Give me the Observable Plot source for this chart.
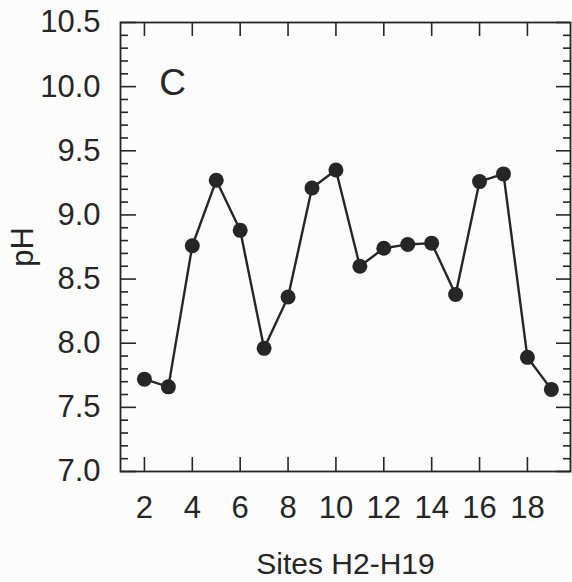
<!DOCTYPE html>
<html>
<head>
<meta charset="utf-8">
<script src="https://cdn.jsdelivr.net/npm/d3@7"></script>
<script src="https://cdn.jsdelivr.net/npm/@observablehq/plot@0.6"></script>
<style>
  html, body { margin: 0; padding: 0; background: #fcfcfc; }
  #chart svg { display: block; }
</style>
</head>
<body>
<div id="chart"></div>
<script>
// Sampling sites H2–H19 and measured pH
const sites = [2, 3, 4, 5, 6, 7, 8, 9, 10, 11, 12, 13, 14, 15, 16, 17, 18, 19];
const pH = [7.72, 7.66, 8.76, 9.27, 8.88, 7.96, 8.36, 9.21, 9.35, 8.60, 8.74, 8.77, 8.78, 8.38, 9.26, 9.32, 7.89, 7.64];

// Axis ticks
const xTicks = [2, 4, 6, 8, 10, 12, 14, 16, 18];
const yMajor = [7.0, 7.5, 8.0, 8.5, 9.0, 9.5, 10.0, 10.5];
const yMinor = [7.1, 7.2, 7.3, 7.4, 7.6, 7.7, 7.8, 7.9, 8.1, 8.2, 8.3, 8.4, 8.6, 8.7, 8.8, 8.9,
                9.1, 9.2, 9.3, 9.4, 9.6, 9.7, 9.8, 9.9, 10.1, 10.2, 10.3, 10.4];

const panelLabel = "C";
const xLabel = "Sites H2-H19";
const yLabel = "pH";

const data = sites.map((s, i) => ({site: s, pH: pH[i]}));

const W = 572, H = 582;
const mL = 120, mR = 2, mT = 22, mB = 111;
const fw = W - mL - mR, fh = H - mT - mB;
const ink = "#262626";
const font = "'Liberation Sans', Arial, sans-serif";

const chart = Plot.plot({
  width: W,
  height: H,
  marginLeft: mL,
  marginRight: mR,
  marginTop: mT,
  marginBottom: mB,
  style: {fontFamily: font, color: ink, background: "transparent"},
  x: {domain: [1, 19.8]},
  y: {domain: [7.0, 10.5]},
  marks: [
    // inward ticks on all four sides
    Plot.ruleY(yMajor, {y: d => d, insetRight: fw - 16, stroke: ink, strokeWidth: 1.6}),
    Plot.ruleY(yMinor, {y: d => d, insetRight: fw - 8, stroke: ink, strokeWidth: 1.6}),
    Plot.ruleY(yMajor, {y: d => d, insetLeft: fw - 14, stroke: ink, strokeWidth: 1.6}),
    Plot.ruleY(yMinor, {y: d => d, insetLeft: fw - 7, stroke: ink, strokeWidth: 1.6}),
    Plot.ruleX(xTicks, {x: d => d, insetTop: fh - 14, stroke: ink, strokeWidth: 1.6}),
    Plot.ruleX(xTicks, {x: d => d, insetBottom: fh - 14, stroke: ink, strokeWidth: 1.6}),
    Plot.frame({stroke: ink, strokeWidth: 1.8}),
    Plot.axisY({
      ticks: yMajor, tickSize: 0, tickPadding: 20,
      tickFormat: d3.format(".1f"), fontSize: 31, label: null
    }),
    Plot.axisX({
      ticks: xTicks, tickSize: 0, tickPadding: 24,
      tickFormat: d => d, fontSize: 31, label: null
    }),
    Plot.line(data, {x: "site", y: "pH", stroke: ink, strokeWidth: 2.4}),
    Plot.dot(data, {x: "site", y: "pH", r: 7.5, fill: ink, stroke: "none"}),
    Plot.text([panelLabel], {
      frameAnchor: "top-left", dx: 52, dy: 61, text: d => d,
      fontSize: 37, fill: ink, textAnchor: "middle", lineAnchor: "middle"
    }),
    Plot.text([yLabel], {
      frameAnchor: "left", dx: -97, rotate: -90, text: d => d,
      fontSize: 31, fill: ink, textAnchor: "middle", lineAnchor: "middle"
    }),
    Plot.text([xLabel], {
      frameAnchor: "bottom", dy: 93, text: d => d,
      fontSize: 30, fill: ink, textAnchor: "middle", lineAnchor: "middle"
    })
  ]
});

document.getElementById("chart").appendChild(chart);
</script>
</body>
</html>
